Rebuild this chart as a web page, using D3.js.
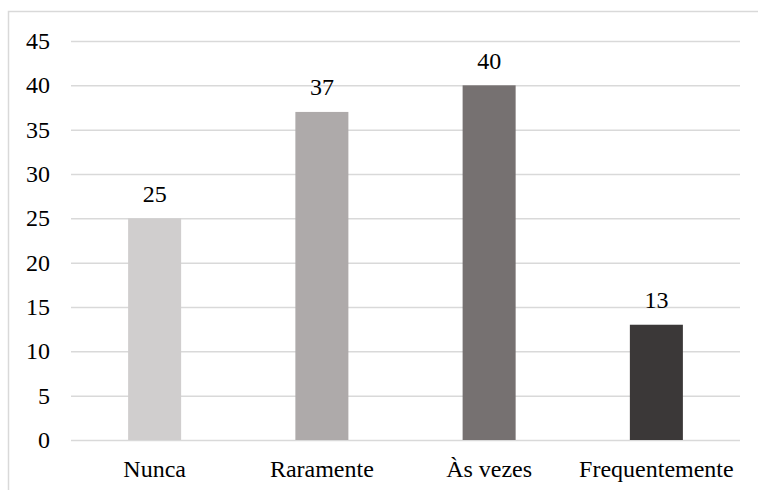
<!DOCTYPE html>
<html>
<head>
<meta charset="utf-8">
<script src="https://cdn.jsdelivr.net/npm/d3@7"></script>
<style>
  html, body { margin: 0; padding: 0; background: #fff; }
  #wrap { position: relative; width: 758px; height: 490px; overflow: hidden; }
  #wrap svg { position: absolute; left: 0; top: 0; display: block; }
  .lbl {
    position: absolute;
    font-family: 'Liberation Serif', 'Times New Roman', Tinos, serif;
    font-size: 24px;
    line-height: 1;
    color: #000;
    white-space: nowrap;
  }
</style>
</head>
<body>
<div id="wrap">
  <svg id="chart" width="758" height="490"></svg>
</div>
<script>
// Response categories and counts
const categories = ["Nunca", "Raramente", "Às vezes", "Frequentemente"];
const counts = [25, 37, 40, 13];
const barColors = ["#d0cece", "#aeaaaa", "#767171", "#3b3838"];
const yTicks = [0, 5, 10, 15, 20, 25, 30, 35, 40, 45];

const W = 758, H = 490;
const wrap = d3.select("#wrap");
const svg = d3.select("#chart");

// Chart frame (runs past the visible area on the right and bottom)
svg.append("rect")
  .attr("x", 8.5).attr("y", 11.5)
  .attr("width", 800).attr("height", 520)
  .attr("fill", "#fff")
  .attr("stroke", "#d9d9d9")
  .attr("stroke-width", 1.5);

const plot = { left: 71, right: 740, top: 41, bottom: 440 };

const x = d3.scaleBand()
  .domain(categories)
  .range([plot.left, plot.right])
  .paddingInner(0.683)
  .paddingOuter(0.683 / 2);

const y = d3.scaleLinear()
  .domain([0, 45])
  .range([plot.bottom, plot.top]);

// Horizontal gridlines, from the axis generator
const grid = svg.append("g")
  .attr("transform", `translate(${plot.left},0)`)
  .call(d3.axisRight(y).tickValues(yTicks).tickSize(plot.right - plot.left).tickFormat(""));
grid.select(".domain").remove();
grid.selectAll(".tick line")
  .attr("stroke", "#d9d9d9")
  .attr("stroke-width", 1.5);

// Bars
svg.append("g")
  .selectAll("rect")
  .data(categories)
  .join("rect")
  .attr("x", d => x(d))
  .attr("width", x.bandwidth())
  .attr("y", (d, i) => y(counts[i]))
  .attr("height", (d, i) => y(0) - y(counts[i]))
  .attr("fill", (d, i) => barColors[i]);

// Y tick labels (right-aligned, centred on each gridline)
wrap.selectAll("div.ytick")
  .data(yTicks)
  .join("div")
  .attr("class", "lbl ytick")
  .style("right", `${W - (plot.left - 21)}px`)
  .style("top", d => `${y(d)}px`)
  .style("transform", "translateY(-50%)")
  .text(d => d);

// Category labels under each bar
wrap.selectAll("div.xtick")
  .data(categories)
  .join("div")
  .attr("class", "lbl xtick")
  .style("left", d => `${x(d) + x.bandwidth() / 2}px`)
  .style("top", `${plot.bottom + 28.5}px`)
  .style("transform", "translate(-50%, -50%)")
  .text(d => d);

// Value labels above the bars
wrap.selectAll("div.val")
  .data(categories)
  .join("div")
  .attr("class", "lbl val")
  .style("left", d => `${x(d) + x.bandwidth() / 2}px`)
  .style("top", (d, i) => `${y(counts[i]) - 24.5}px`)
  .style("transform", "translate(-50%, -50%)")
  .text((d, i) => counts[i]);
</script>
</body>
</html>
